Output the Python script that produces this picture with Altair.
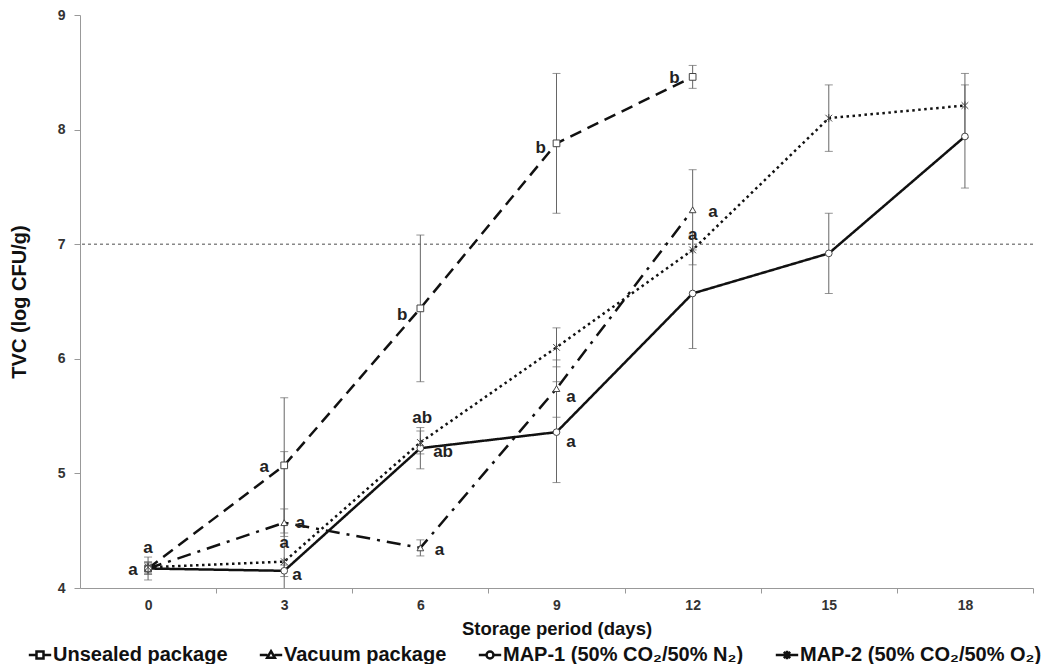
import altair as alt
import pandas as pd

# ---------------- data ----------------
days = [0, 3, 6, 9, 12, 15, 18]
series_names = [
    "Unsealed package",
    "Vacuum package",
    "MAP-1 (50% CO₂/50% N₂)",
    "MAP-2 (50% CO₂/50% O₂)",
]

unsealed_mean = [4.17, 5.07, 6.44, 7.88, 8.46]
unsealed_err = [0.05, 0.59, 0.64, 0.61, 0.10]

vacuum_mean = [4.17, 4.57, 4.35, 5.74, 7.30]
vacuum_err = [0.05, 0.12, 0.07, 0.25, 0.35]

map1_mean = [4.17, 4.15, 5.22, 5.36, 6.57, 6.92, 7.94]
map1_err = [0.10, 0.05, 0.18, 0.44, 0.48, 0.35, 0.45]

map2_mean = [4.18, 4.23, 5.27, 6.10, 6.95, 8.10, 8.21]
map2_err = [0.05, 0.96, 0.10, 0.17, 0.13, 0.29, 0.28]

limit_value = [7.0]

letter_text = ["a", "a",
               "a", "a", "a", "a",
               "b", "ab", "ab", "a",
               "b", "a", "a",
               "b", "a", "a"]
letter_day = [-0.33, 0.0,
              2.56, 3.36, 3.0, 3.28,
              5.6, 6.04, 6.5, 6.42,
              8.65, 9.32, 9.32,
              11.6, 12.45, 12.0]
letter_value = [4.16, 4.35,
                5.06, 4.57, 4.39, 4.11,
                6.38, 5.48, 5.19, 4.33,
                7.84, 5.67, 5.27,
                8.45, 7.28, 7.08]

# ---------------- tables ----------------
rows = []
for name, means, errs in zip(series_names,
                             [unsealed_mean, vacuum_mean, map1_mean, map2_mean],
                             [unsealed_err, vacuum_err, map1_err, map2_err]):
    for d, m, e in zip(days, means, errs):
        rows.append({"series": name, "day": d, "value": m, "lo": m - e, "hi": m + e})
df = pd.DataFrame(rows)
caps = pd.concat([
    df[["series", "day", "lo"]].rename(columns={"lo": "end"}),
    df[["series", "day", "hi"]].rename(columns={"hi": "end"}),
])
letters = pd.DataFrame({"day": letter_day, "value": letter_value, "txt": letter_text})
limit_df = pd.DataFrame({"value": limit_value})

# ---------------- geometry ----------------
W, H = 953, 573
HALF_BAND = W / 21 * 1.5
FONT = "Liberation Sans"

x_scale = alt.Scale(domain=[-1.5, 19.5], nice=False, zero=False)
y_scale = alt.Scale(domain=[4, 9], nice=False, zero=False)

x_axis = alt.Axis(values=days, tickOffset=HALF_BAND, labelOffset=-HALF_BAND,
                  grid=False, tickSize=5, labelPadding=5, titlePadding=7,
                  labelFontSize=14, titleFontSize=18.5, labelColor="#333",
                  titleColor="#111")
y_axis = alt.Axis(values=[4, 5, 6, 7, 8, 9], grid=False, tickSize=6,
                  labelPadding=9, titlePadding=28, labelFontSize=14,
                  titleFontSize=20, labelColor="#333", titleColor="#111")


def X(field):
    return alt.X(field, type="quantitative", scale=x_scale, axis=x_axis,
                 title="Storage period (days)")


def Y(field):
    return alt.Y(field, type="quantitative", scale=y_scale, axis=y_axis,
                 title="TVC (log CFU/g)")


star_path = "M-1,-1L1,1M-1,1L1,-1M0,-1.2L0,1.2"
marker_shapes = ["square", "triangle-up", "circle", star_path]
legend_shapes = [
    "M-1.6,0H-0.5M0.5,0H1.6M-0.5,-0.5H0.5V0.5H-0.5Z",
    "M-1.6,0H-0.5M0.5,0H1.6M0,-0.55L0.55,0.4H-0.55Z",
    "M-1.6,0H-0.5M0.5,0H1.6M0.5,0A0.5,0.5,0,1,1,-0.5,0A0.5,0.5,0,1,1,0.5,0Z",
    "M-1.6,0H1.6M-0.45,-0.45L0.45,0.45M-0.45,0.45L0.45,-0.45M0,-0.6V0.6",
]
dashes = [[12, 7], [14, 7, 3, 7], [1, 0], [2.5, 3.5]]

base = alt.Chart(df)

limit = alt.Chart(limit_df).mark_rule(color="#888", strokeWidth=1.5,
                                      strokeDash=[3, 3]).encode(y=Y("value"))

errbars = base.mark_rule(color="#666", strokeWidth=1, clip=True).encode(
    x=X("day"), y=Y("lo"), y2="hi")
errcaps = alt.Chart(caps).mark_tick(orient="horizontal", size=8, thickness=1,
                                     color="#666", clip=True).encode(
    x=X("day"), y=Y("end"))

lines = base.mark_line(color="#111", strokeWidth=2.5).encode(
    x=X("day"), y=Y("value"),
    strokeDash=alt.StrokeDash("series:N", scale=alt.Scale(domain=series_names, range=dashes),
                              legend=None),
    detail="series:N",
)

points = base.mark_point(filled=True, fill="white", stroke="#444", strokeWidth=1,
                         size=45, opacity=1).encode(
    x=X("day"), y=Y("value"),
    shape=alt.Shape("series:N", scale=alt.Scale(domain=series_names, range=marker_shapes),
                    legend=None),
)

legend_layer = base.mark_point(opacity=0, size=10, strokeWidth=2.5, color="#111").encode(
    x=X("day"), y=Y("value"),
    shape=alt.Shape("series:N",
                    scale=alt.Scale(domain=series_names, range=legend_shapes),
                    legend=alt.Legend(title=None, orient="none", legendX=-50, legendY=630,
                                      direction="horizontal", columns=4, columnPadding=26,
                                      symbolSize=196, symbolStrokeWidth=2.5,
                                      symbolStrokeColor="#111", symbolFillColor="white",
                                      symbolOpacity=1, labelFont=FONT, labelFontWeight="bold",
                                      labelFontSize=20, labelColor="#111", labelOffset=3,
                                      labelLimit=600, padding=0)),
)

texts = alt.Chart(letters).mark_text(font=FONT, fontWeight="bold", fontSize=17,
                                     color="#222").encode(
    x=X("day"), y=Y("value"), text="txt:N")

chart = alt.layer(limit, errbars, errcaps, lines, points, texts, legend_layer).resolve_scale(
    shape="independent"
).properties(
    width=W, height=H,
    autosize=alt.AutoSizeParams(type="none"),
    padding={"left": 72, "top": 7, "right": 17, "bottom": 76},
).configure_view(stroke=None).configure_axis(
    labelFont=FONT, titleFont=FONT, labelFontWeight="bold", titleFontWeight="bold",
    domainColor="#999", tickColor="#999",
)

chart.save("out.html", embed_options={"renderer": "svg", "actions": False})
